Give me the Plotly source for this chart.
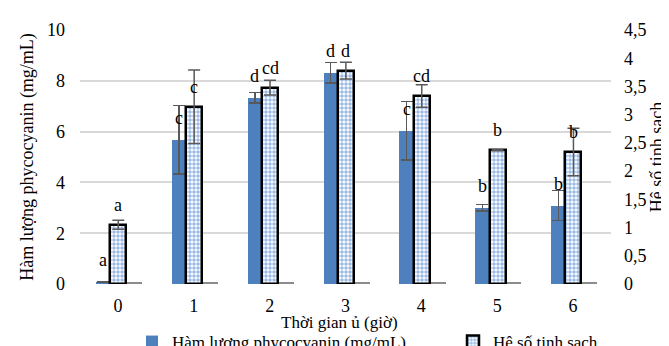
import plotly.graph_objects as go

hours = [0, 1, 2, 3, 4, 5, 6]
hour_labels = ["0", "1", "2", "3", "4", "5", "6"]

phyco = [0.07, 5.68, 7.33, 8.32, 6.04, 3.00, 3.09]
phyco_err = [0.0, 1.35, 0.20, 0.40, 1.15, 0.13, 0.59]
phyco_letters = ["a", "c", "d", "d", "c", "b", "b"]

purity = [1.05, 3.14, 3.48, 3.78, 3.33, 2.37, 2.34]
purity_err = [0.08, 0.65, 0.13, 0.15, 0.20, 0.01, 0.42]
purity_letters = ["a", "c", "cd", "d", "cd", "b", "b"]

dummy = [0.04, 0.04, 0.04, 0.04, 0.04, 0.04, 0.04]

FONT = "Liberation Serif"
BLUE = "#4e80bd"
ERR = "#595959"

fig = go.Figure()

fig.add_trace(go.Bar(
    x=hours, y=phyco, name="Hàm lượng phycocyanin (mg/mL)",
    marker=dict(color=BLUE, line=dict(width=0)),
    width=0.19, offset=-0.29,
    error_y=dict(type="data", array=phyco_err, color=ERR, thickness=1.5, width=6),
    yaxis="y", legend="legend",
))
fig.add_trace(go.Bar(
    x=hours, y=purity, name="Hệ số tinh sạch",
    marker=dict(color="white", line=dict(width=2.5, color="black"),
                pattern=dict(shape=".", fgcolor="#3a78c9", bgcolor="white",
                             size=4, solidity=0.62)),
    width=0.21, offset=-0.1,
    error_y=dict(type="data", array=purity_err, color=ERR, thickness=1.5, width=6),
    yaxis="y2", legend="legend2",
))
fig.add_trace(go.Bar(
    x=hours, y=dummy, name="",
    marker=dict(color="#8c8c8c", line=dict(width=0)),
    width=0.2, offset=0.12, showlegend=False, hoverinfo="skip",
    yaxis="y",
))

annotations = []
for i, h in enumerate(hours):
    annotations.append(dict(x=h - 0.195, y=phyco[i], xref="x", yref="y",
                            text=phyco_letters[i], showarrow=False,
                            yanchor="middle", yshift=22,
                            font=dict(family=FONT, size=18, color="black")))
    annotations.append(dict(x=h + 0.005, y=purity[i], xref="x", yref="y2",
                            text=purity_letters[i], showarrow=False,
                            yanchor="middle", yshift=20,
                            font=dict(family=FONT, size=18, color="black")))

annotations.append(dict(text="Thời gian ủ (giờ)",
                        x=(331 - 72) / (669 - 72 - 66),
                        y=-(314 - 276) / (276 - 22),
                        xref="paper", yref="paper", showarrow=False,
                        xanchor="center", yanchor="middle",
                        font=dict(family=FONT, size=17, color="black")))

leg_common = dict(orientation="h", xref="container", yref="container",
                  xanchor="left", yanchor="middle",
                  font=dict(family=FONT, size=17), bgcolor="rgba(0,0,0,0)",
                  itemwidth=30)

fig.update_layout(
    width=669, height=346,
    margin=dict(l=72, r=66, t=22, b=70, autoexpand=False),
    paper_bgcolor="white", plot_bgcolor="white",
    separators=", ",
    font=dict(family=FONT, size=18, color="black"),
    showlegend=True,
    legend=dict(x=(169 - 45) / 669, y=(346 - 334) / 346, **leg_common),
    legend2=dict(x=(490 - 45) / 669, y=(346 - 334) / 346, **leg_common),
    xaxis=dict(range=[-0.5, 6.5], tickmode="array", tickvals=hours,
               ticktext=hour_labels, showgrid=False, zeroline=False,
               showline=False, ticks="", ticklabelstandoff=9,
               tickfont=dict(family=FONT, size=18)),
    yaxis=dict(range=[0, 10], dtick=2, showgrid=True, gridcolor="#d9d9d9",
               gridwidth=1.5, zeroline=False, showline=False, ticks="",
               ticklabelstandoff=14, tickfont=dict(family=FONT, size=18),
               title=dict(text="Hàm lượng phycocyanin (mg/mL)", standoff=8,
                          font=dict(family=FONT, size=18))),
    yaxis2=dict(range=[0, 4.5], dtick=0.5, overlaying="y", side="right",
                showgrid=False, zeroline=False, showline=False, ticks="",
                ticklabelstandoff=12, tickfont=dict(family=FONT, size=18),
                title=dict(text="Hệ số tinh sạch", standoff=3,
                           font=dict(family=FONT, size=18))),
    annotations=annotations,
    bargap=0, barmode="overlay",
)

fig.write_html("out.html")
